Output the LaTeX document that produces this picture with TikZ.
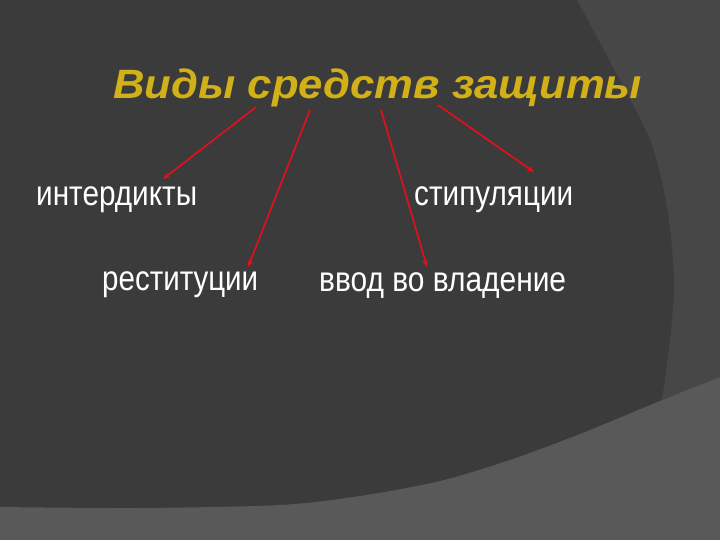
\documentclass[tikz,border=0pt]{standalone}
\usepackage{fontspec}
\setmainfont{Liberation Sans}
\usetikzlibrary{arrows.meta}
\definecolor{bgdark}{HTML}{3B3B3B}
\definecolor{bgmid}{HTML}{474747}
\definecolor{bglight}{HTML}{595959}
\definecolor{gold}{HTML}{D2B018}
\definecolor{arrowred}{HTML}{E0101C}
\begin{document}
\begin{tikzpicture}[x=1pt,y=-1pt,
  lbl/.style={text=white,inner sep=0pt,anchor=base west,font=\fontsize{35}{40}\selectfont},
  ttl/.style={text=gold,inner sep=0pt,anchor=base west,font=\fontsize{41}{46}\selectfont\bfseries\itshape},
  arr/.style={draw=arrowred,line width=1.7pt,-{Stealth[length=7pt,width=6pt]}}]
\useasboundingbox (0,0) rectangle (720,540);
\fill[bgdark] (0,0) rectangle (720,540);
\fill[bgmid] plot[smooth] coordinates {(577,0) (613,67) (650,140) (667,207) (674,280) (670,340) (662,400)} -- (720,400) -- (720,0) -- cycle;
\fill[bglight] plot[smooth] coordinates {(0,507) (140,508) (280,505) (360,496) (440,481) (510,460) (580,434) (660,401) (720,377)} -- (720,540) -- (0,540) -- cycle;
% title
\node[ttl] (title) at (113,99) {\resizebox{529pt}{\height}{Виды средств защиты}};
% labels
\node[lbl] (interd) at (36,205) {\resizebox{161pt}{\height}{интердикты}};
\node[lbl] (stip) at (414,205) {\resizebox{159pt}{\height}{стипуляции}};
\node[lbl] (restit) at (102,290) {\resizebox{156pt}{\height}{реституции}};
\node[lbl] (vvod) at (319,291) {\resizebox{247pt}{\height}{ввод во владение}};
% arrow end points
\coordinate (s1) at (256,107);
\coordinate (e1) at (163,179);
\coordinate (s2) at (310,110);
\coordinate (e2) at (248,267);
\coordinate (s3) at (381,110);
\coordinate (e3) at (427,267);
\coordinate (s4) at (438,105);
\coordinate (e4) at (534,172);
\draw[arr] (s1) -- (e1);
\draw[arr] (s2) -- (e2);
\draw[arr] (s3) -- (e3);
\draw[arr] (s4) -- (e4);
\end{tikzpicture}
\end{document}
